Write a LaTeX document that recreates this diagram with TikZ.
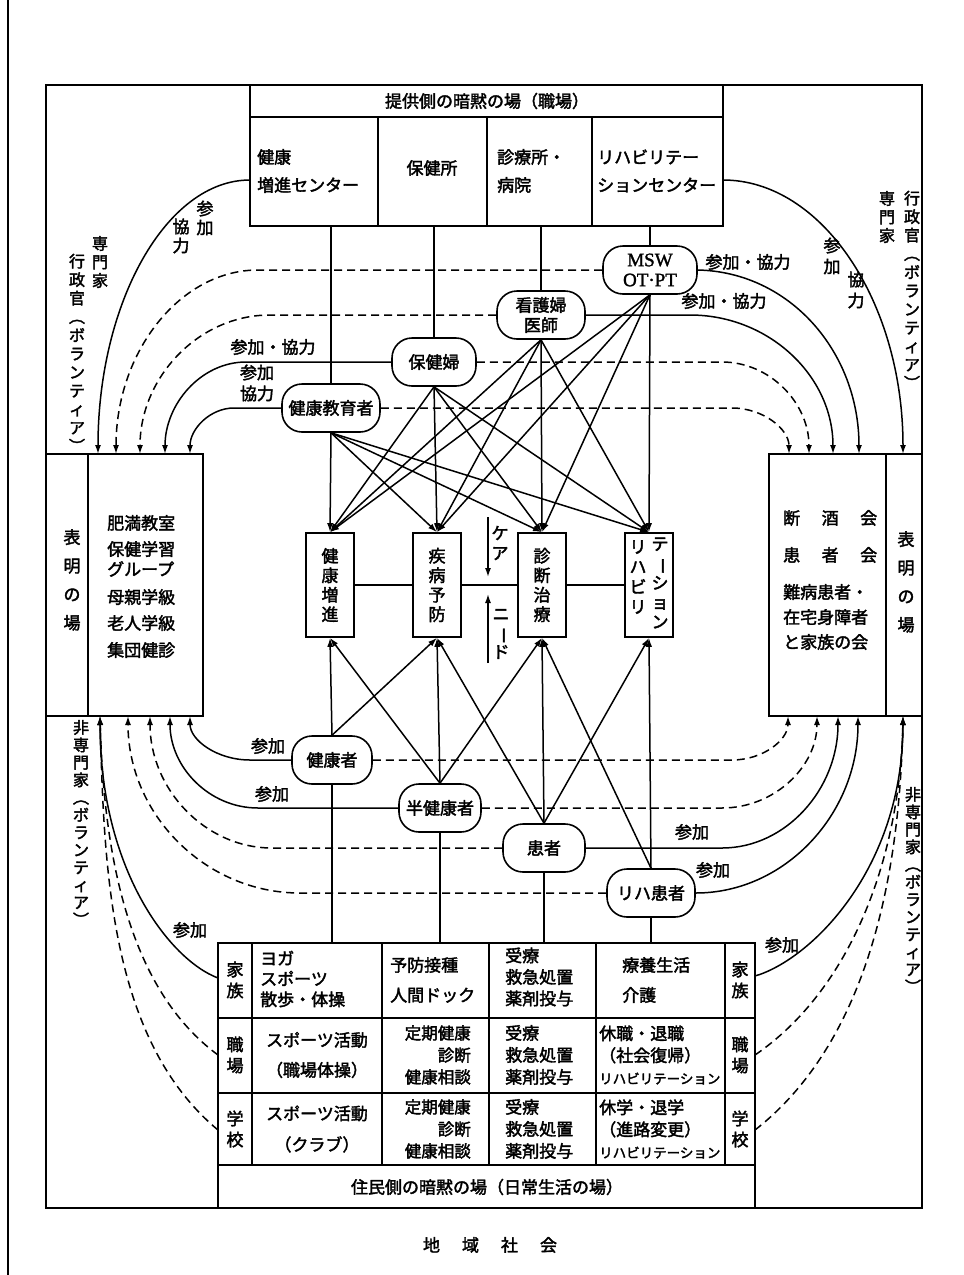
\documentclass[tikz,border=0pt]{standalone}
\usepackage{fontspec}
\usepackage{graphicx}
\setmainfont{Noto Sans CJK JP}[FakeBold=2.2]
\newfontfamily\latinserif{Liberation Serif}[FakeBold=1.5]
\usetikzlibrary{arrows.meta}
\newcommand{\vbar}{\rotatebox[origin=c]{-90}{ー}}
\newcommand{\fsz}[2]{\fontsize{#1}{#2}\selectfont}
\begin{document}
\begin{tikzpicture}[x=1pt,y=-1pt,
  ln/.style={line width=1.5pt},
  ds/.style={line width=1.5pt, dash pattern=on 8pt off 5pt},
  ar/.style={-{Latex[length=9pt,width=6pt]}},
  bx/.style={line width=1.8pt},
  pill/.style={draw, line width=1.6pt, rounded corners=20pt, minimum height=48pt, fill=white, inner sep=1pt, font=\fsz{17}{20}, align=center},
  tx/.style={inner sep=0pt, font=\fsz{17}{20}},
  vt/.style={inner sep=0pt, align=center, font=\fsz{16}{18.5}},
  sbox/.style={draw, line width=1.6pt, minimum width=48pt, minimum height=104pt, inner sep=0pt, align=center, font=\fsz{17}{19.5}},
]
\useasboundingbox (0,0) rectangle (964,1275);
% page edge and frame
\draw[line width=1.8pt] (8,0) -- (8,1275);
\draw[line width=1.9pt] (46,85) rectangle (922,1208);

% ---------- top box
\draw[bx, fill=white] (250,85) rectangle (723,226);
\draw[bx] (250,117) -- (723,117);
\draw[bx] (378,117) -- (378,226) (487,117) -- (487,226) (592,117) -- (592,226);
\node[tx] (title) at (487,101) {提供側の暗黙の場（職場）};
\node[tx, anchor=west, align=left, font=\fsz{17}{28}] (c1) at (257,171) {健康\\増進センター};
\node[tx] (c2) at (432,168) {保健所};
\node[tx, anchor=west, align=left, font=\fsz{17}{28}] (c3) at (497,171) {診療所・\\病院};
\node[tx, anchor=west, align=left, font=\fsz{17}{28}] (c4) at (597,171) {リハビリテー\\ションセンター};
\coordinate (tbB) at (0,226);
\coordinate (tbL) at (250,180);
\coordinate (tbR) at (723,180);

% ---------- left / right boxes
\draw[bx] (46,454) rectangle (203,716);
\draw[bx] (88,454) -- (88,716);
\node[vt, font=\fsz{17}{28.5}] (hyoL) at (72,580) {表\\明\\の\\場};
\node[tx, anchor=west] (l1) at (107,523) {肥満教室};
\node[tx, anchor=west] (l2) at (107,549) {保健学習};
\node[tx, anchor=west] (l3) at (107,569) {グループ};
\node[tx, anchor=west] (l4) at (107,597) {母親学級};
\node[tx, anchor=west] (l5) at (107,623) {老人学級};
\node[tx, anchor=west] (l6) at (107,650) {集団健診};

\draw[bx] (769,454) rectangle (922,716);
\draw[bx] (886,454) -- (886,716);
\node[vt, font=\fsz{17}{28.5}] (hyoR) at (906,582) {表\\明\\の\\場};
\node[tx, anchor=west] (r1) at (783,518) {\makebox[94pt][s]{断\hfill 酒\hfill 会}};
\node[tx, anchor=west] (r2) at (783,555) {\makebox[94pt][s]{患\hfill 者\hfill 会}};
\node[tx, anchor=west] (r3) at (783,592) {難病患者・};
\node[tx, anchor=west] (r4) at (783,617) {在宅身障者};
\node[tx, anchor=west] (r5) at (783,642) {と家族の会};

% ---------- pills (top)
\node[pill, minimum width=98pt] (kk) at (331,408) {健康教育者};
\node[pill, minimum width=84pt] (hk) at (434,362) {保健婦};
\node[pill, minimum width=88pt] (kn) at (541,315) {看護婦\\医師};
\node[pill, minimum width=94pt, font=\latinserif\fsz{19}{20}] (ms) at (650,270) {MSW\\OT·PT};

% ---------- center boxes
\node[sbox] (b1) at (330,585) {健\\康\\増\\進};
\node[sbox] (b2) at (437,585) {疾\\病\\予\\防};
\node[sbox] (b3) at (542,585) {診\\断\\治\\療};
\node[sbox] (b4) at (649,585) {};
\node[vt, font=\fsz{17}{20}] (b4a) at (638,577) {リ\\ハ\\ビ\\リ};
\node[vt, font=\fsz{17}{19.5}] (b4b) at (660,583) {テ\\\vbar\\シ\\ョ\\ン};
\draw[ln] (b1.east) -- (b2.west);
\draw[ln] (b2.east) -- (b3.west);
\draw[ln] (b3.east) -- (b4.west);

% ---------- pills (bottom)
\node[pill, minimum width=80pt] (p1) at (332,760) {健康者};
\node[pill, minimum width=82pt] (p2) at (440,808) {半健康者};
\node[pill, minimum width=82pt] (p3) at (544,848) {患者};
\node[pill, minimum width=88pt] (p4) at (651,893) {リハ患者};

% ---------- bottom table
\draw[bx] (218,943) rectangle (755,1208);
\draw[bx] (218,1018) -- (755,1018) (218,1093) -- (755,1093) (218,1165) -- (755,1165);
\foreach \xx in {252,382,489,596,725} \draw[bx] (\xx,943) -- (\xx,1165);
\coordinate (ttop) at (0,943);
\coordinate (famL) at (218,978);
\coordinate (jobL) at (218,1055);
\coordinate (schL) at (218,1130);
\coordinate (famR) at (755,976);
\coordinate (jobR) at (755,1055);
\coordinate (schR) at (755,1130);

\node[vt, font=\fsz{17}{21}] (t1a) at (235,980) {家\\族};
\node[vt, font=\fsz{17}{21}] (t2a) at (235,1055) {職\\場};
\node[vt, font=\fsz{17}{21}] (t3a) at (235,1129) {学\\校};
\node[vt, font=\fsz{17}{21}] (t1f) at (740,980) {家\\族};
\node[vt, font=\fsz{17}{21}] (t2f) at (740,1055) {職\\場};
\node[vt, font=\fsz{17}{21}] (t3f) at (740,1129) {学\\校};

\node[tx, anchor=west, align=left, font=\fsz{17}{20.5}] (t1b) at (260,979) {ヨガ\\スポーツ\\散歩・体操};
\node[tx, anchor=west, align=left, font=\fsz{17}{30}] (t1c) at (390,980) {予防接種\\人間ドック};
\node[tx, anchor=west, align=left, font=\fsz{17}{21.5}] (t1d) at (505,977) {受療\\救急処置\\薬剤投与};
\node[tx, anchor=west, align=left, font=\fsz{17}{30}] (t1e) at (622,980) {療養生活\\介護};

\node[tx, align=center, font=\fsz{17}{30}] (t2b) at (317,1055) {スポーツ活動\\（職場体操）};
\node[tx, anchor=east, align=right, font=\fsz{16.5}{22}] (t2c) at (471,1055) {定期健康\\診断\\健康相談};
\node[tx, anchor=west, align=left, font=\fsz{17}{22}] (t2d) at (505,1055) {受療\\救急処置\\薬剤投与};
\node[tx, anchor=west, align=left, font=\fsz{17}{22}] (t2e) at (599,1055) {休職・退職\\（社会復帰）\\{\fsz{13.5}{22}リハビリテーション}};

\node[tx, align=center, font=\fsz{17}{31}] (t3b) at (317,1129) {スポーツ活動\\（クラブ）};
\node[tx, anchor=east, align=right, font=\fsz{16.5}{22}] (t3c) at (471,1129) {定期健康\\診断\\健康相談};
\node[tx, anchor=west, align=left, font=\fsz{17}{22}] (t3d) at (505,1129) {受療\\救急処置\\薬剤投与};
\node[tx, anchor=west, align=left, font=\fsz{17}{22}] (t3e) at (599,1129) {休学・退学\\（進路変更）\\{\fsz{13.5}{22}リハビリテーション}};

\node[tx] (bottom) at (487,1187) {住民側の暗黙の場（日常生活の場）};
\node[tx] (caption) at (490,1245) {地\hspace{22pt}域\hspace{22pt}社\hspace{22pt}会};

% ---------- verticals
\foreach \n in {kk,hk,kn,ms} \draw[ln] (\n.north) -- (\n.north |- tbB);
\foreach \n in {p1,p2,p3,p4} \draw[ln] (\n.south) -- (\n.south |- ttop);

% ---------- fans (top)
\foreach \s in {kk,hk,kn,ms} \foreach \t in {b1,b2,b3,b4} \draw[ln,ar] (\s.south) -- (\t.north);
% ---------- fans (bottom)
\draw[ln,ar] (p1.north) -- (b1.south);
\draw[ln,ar] (p1.north) -- (b2.south);
\draw[ln,ar] (p2.north) -- (b1.south);
\draw[ln,ar] (p2.north) -- (b2.south);
\draw[ln,ar] (p2.north) -- (b3.south);
\draw[ln,ar] (p3.north) -- (b2.south);
\draw[ln,ar] (p3.north) -- (b3.south);
\draw[ln,ar] (p3.north) -- (b4.south);
\draw[ln,ar] (p4.north) -- (b3.south);
\draw[ln,ar] (p4.north) -- (b4.south);

% ---------- care / need
\coordinate (ka) at (488,517);
\coordinate (kb) at (488,577);
\coordinate (na) at (488,663);
\coordinate (nb) at (488,594);
\draw[ln,ar] (ka) -- (kb);
\draw[ln,ar] (na) -- (nb);
\node[vt, font=\fsz{17}{20}] (care) at (500,543) {ケ\\ア};
\node[vt, font=\fsz{17}{19}] (need) at (501,634) {ニ\\\vbar\\ド};

% ---------- upper left curves
\draw[ln,ar] (tbL) .. controls (166,180) and (98,303) .. (98,454);
\draw[ds,ar] (ms.west) -- (258,270) .. controls (180,270) and (116,352) .. (116,454);
\draw[ds,ar] (kn.west) -- (270,315) .. controls (198,315) and (140,378) .. (140,454);
\draw[ln,ar] (hk.west) -- (246,362) .. controls (201,362) and (165,404) .. (165,454);
\draw[ln,ar] (kk.west) -- (234,408) .. controls (210,408) and (190,429) .. (190,454);
% ---------- upper right curves
\draw[ln,ar] (tbR) .. controls (822,180) and (903,302) .. (903,454);
\draw[ln,ar] (ms.east) .. controls (790,272) and (859,352) .. (859,454);
\draw[ln,ar] (kn.east) -- (690,315) .. controls (769,315) and (833,376) .. (833,454);
\draw[ds,ar] (hk.east) -- (722,362) .. controls (770,362) and (809,403) .. (809,454);
\draw[ds,ar] (kk.east) -- (732,408) .. controls (763,408) and (789,429) .. (789,454);
% ---------- lower left curves
\draw[ln,ar] (p1.west) -- (250,760) .. controls (217,760) and (190,740) .. (190,716);
\draw[ln,ar] (p2.west) -- (258,808) .. controls (209,808) and (170,767) .. (170,716);
\draw[ds,ar] (p3.west) -- (272,848) .. controls (205,848) and (150,789) .. (150,716);
\draw[ds,ar] (p4.west) -- (300,893) .. controls (205,893) and (128,814) .. (128,716);
\draw[ln,ar] (famL) .. controls (170,960) and (100,870) .. (100,716);
\draw[ds,ar] (jobL) .. controls (130,990) and (104,860) .. (100,716);
\draw[ds,ar] (schL) .. controls (110,1040) and (104,870) .. (100,716);
% ---------- lower right curves
\draw[ds,ar] (p1.east) -- (732,760) .. controls (763,760) and (788,740) .. (788,716);
\draw[ds,ar] (p2.east) -- (722,808) .. controls (774,808) and (817,767) .. (817,716);
\draw[ln,ar] (p3.east) -- (722,848) .. controls (786,848) and (838,789) .. (838,716);
\draw[ln,ar] (p4.east) .. controls (785,893) and (858,814) .. (858,716);
\draw[ln,ar] (famR) .. controls (810,960) and (903,870) .. (903,716);
\draw[ds,ar] (jobR) .. controls (850,990) and (900,860) .. (903,716);
\draw[ds,ar] (schR) .. controls (870,1040) and (900,870) .. (903,716);

% ---------- labels
\node[vt, font=\fsz{17}{19}] (la1) at (205,218) {参\\加};
\node[vt, font=\fsz{17}{19}] (la2) at (181,236) {協\\力};
\node[vt] (senL) at (100,262) {専\\門\\家};
\node[vt] (gyoL) at (77,353) {行\\政\\官\\︵\\ボ\\ラ\\ン\\テ\\ィ\\ア\\︶};
\node[tx] (la3) at (273,347) {参加・協力};
\node[vt, font=\fsz{17}{21}] (la4) at (257,383) {参加\\協力};

\node[tx] (ra1) at (748,262) {参加・協力};
\node[tx] (ra2) at (724,301) {参加・協力};
\node[vt, font=\fsz{17}{21}] (ra3) at (832,256) {参\\加};
\node[vt, font=\fsz{17}{21}] (ra4) at (856,290) {協\\力};
\node[vt] (senR) at (887,217) {専\\門\\家};
\node[vt] (gyoR) at (912,290) {行\\政\\官\\︵\\ボ\\ラ\\ン\\テ\\ィ\\ア\\︶};

\node[tx] (lb1) at (268,746) {参加};
\node[tx] (lb2) at (272,794) {参加};
\node[tx] (lb3) at (190,930) {参加};
\node[vt, font=\fsz{16}{17.5}] (hiL) at (81,823) {非\\専\\門\\家\\︵\\ボ\\ラ\\ン\\テ\\ィ\\ア\\︶};

\node[tx] (rb1) at (692,832) {参加};
\node[tx] (rb2) at (713,870) {参加};
\node[tx] (rb3) at (782,945) {参加};
\node[vt, font=\fsz{16}{17.5}] (hiR) at (913,890) {非\\専\\門\\家\\︵\\ボ\\ラ\\ン\\テ\\ィ\\ア\\︶};
\end{tikzpicture}
\end{document}
